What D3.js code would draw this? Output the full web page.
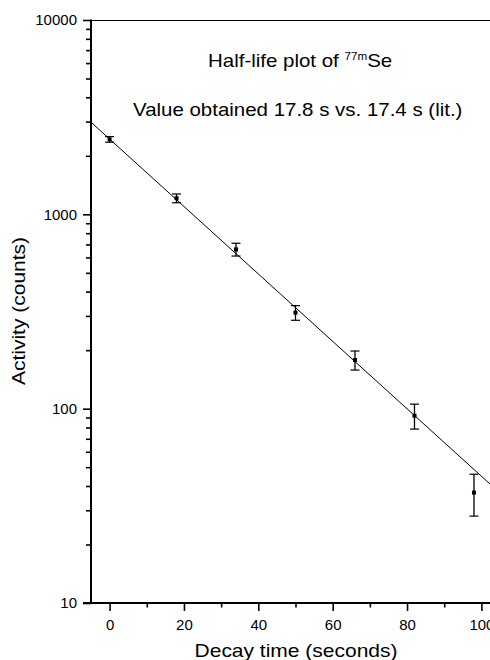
<!DOCTYPE html>
<html>
<head>
<meta charset="utf-8">
<script src="https://cdn.jsdelivr.net/npm/d3@7"></script>
<style>
  html, body { margin: 0; padding: 0; background: #fff; }
  svg { display: block; font-family: "Liberation Sans", Arial, sans-serif; }
</style>
</head>
<body>
<svg id="chart" width="490" height="660"></svg>
<script>
// ---- data ----
const decayTimes = [0, 18, 34, 50, 66, 82, 98];
const activityCounts = [2430, 1210, 660, 312, 178, 92, 37];
const activityErrors = [80, 63, 50, 27, 20, 13.5, 9];
const fitA0 = [2440];          // fitted activity at t = 0
const fitHalfLife = [17.35];   // seconds (slope of the drawn fit line)
const fitTimes = [-5, 105];
const xTickValues = [0, 20, 40, 60, 80, 100];
const xMinorTickValues = [10, 30, 50, 70, 90];
const yTickValues = [10, 100, 1000, 10000];
const titleText = ["Half-life plot of ", "77m", "Se"];
const noteText = "Value obtained 17.8 s vs. 17.4 s (lit.)";
const xTitle = "Decay time (seconds)";
const yTitle = "Activity (counts)";

// ---- layout ----
const svg = d3.select("#chart");
const pLeft = 91, pRight = 500, pTop = 20, pBottom = 603;

const x = d3.scaleLinear().domain([-5, 105]).range([pLeft, pRight]);
const y = d3.scaleLog().domain([10, 10000]).range([pBottom, pTop]);

// minor y ticks 2..9 per decade
const yMinor = [];
for (let d = 10; d < 10000; d *= 10) for (let k = 2; k <= 9; k++) yMinor.push(d * k);

// clip for plot
svg.append("defs").append("clipPath").attr("id", "plotclip")
  .append("rect").attr("x", pLeft).attr("y", pTop).attr("width", pRight - pLeft).attr("height", pBottom - pTop);

// top frame line
svg.append("line").attr("x1", pLeft).attr("x2", pRight).attr("y1", pTop + 0.5).attr("y2", pTop + 0.5)
  .attr("stroke", "#000").attr("stroke-width", 1.2);

// y axis
const yAxis = d3.axisLeft(y).tickValues(yTickValues).tickFormat(d3.format("d")).tickSize(8).tickPadding(6);
const gy = svg.append("g").attr("transform", `translate(${pLeft},0)`).call(yAxis);
gy.select(".domain").remove();
gy.selectAll(".tick line").attr("stroke-width", 1.6);
gy.selectAll(".tick text").attr("font-size", 15).attr("fill", "#000")
  .attr("font-family", "Liberation Sans, Arial, sans-serif");
const gyMinor = svg.append("g").attr("transform", `translate(${pLeft},0)`)
  .call(d3.axisLeft(y).tickValues(yMinor).tickFormat("").tickSize(5));
gyMinor.select(".domain").remove();
gyMinor.selectAll(".tick line").attr("stroke-width", 1.6);
svg.append("line").attr("x1", pLeft).attr("x2", pLeft).attr("y1", pTop - 0.5).attr("y2", pBottom + 1)
  .attr("stroke", "#000").attr("stroke-width", 2);

// x axis
const xAxis = d3.axisBottom(x).tickValues(xTickValues).tickFormat(d3.format("d")).tickSize(8).tickPadding(8);
const gx = svg.append("g").attr("transform", `translate(0,${pBottom})`).call(xAxis);
gx.select(".domain").remove();
gx.selectAll(".tick line").attr("stroke-width", 1.6);
gx.selectAll(".tick text").attr("font-size", 15).attr("fill", "#000")
  .attr("font-family", "Liberation Sans, Arial, sans-serif");
const gxMinor = svg.append("g").attr("transform", `translate(0,${pBottom})`)
  .call(d3.axisBottom(x).tickValues(xMinorTickValues).tickFormat("").tickSize(4.5));
gxMinor.select(".domain").remove();
gxMinor.selectAll(".tick line").attr("stroke-width", 1.6);
svg.append("line").attr("x1", pLeft - 8).attr("x2", pRight).attr("y1", pBottom).attr("y2", pBottom)
  .attr("stroke", "#000").attr("stroke-width", 2);

// fit line
const fitLine = d3.line()
  .x(d => x(d))
  .y(d => y(fitA0[0] * Math.pow(2, -d / fitHalfLife[0])));
svg.append("path").datum(fitTimes).attr("d", fitLine)
  .attr("clip-path", "url(#plotclip)")
  .attr("fill", "none").attr("stroke", "#000").attr("stroke-width", 1);

// error bars and points
const pts = decayTimes.map((t, i) => ({ t, v: activityCounts[i], e: activityErrors[i] }));
const eb = svg.append("g").attr("clip-path", "url(#plotclip)");
const g = eb.selectAll("g.pt").data(pts).enter().append("g").attr("class", "pt");
g.append("line")
  .attr("x1", d => x(d.t)).attr("x2", d => x(d.t))
  .attr("y1", d => y(d.v + d.e)).attr("y2", d => y(d.v - d.e))
  .attr("stroke", "#000").attr("stroke-width", 1.3);
g.append("line")
  .attr("x1", d => x(d.t) - 4.5).attr("x2", d => x(d.t) + 4.5)
  .attr("y1", d => y(d.v + d.e)).attr("y2", d => y(d.v + d.e))
  .attr("stroke", "#000").attr("stroke-width", 1.2);
g.append("line")
  .attr("x1", d => x(d.t) - 4.5).attr("x2", d => x(d.t) + 4.5)
  .attr("y1", d => y(d.v - d.e)).attr("y2", d => y(d.v - d.e))
  .attr("stroke", "#000").attr("stroke-width", 1.2);
g.append("rect")
  .attr("x", d => x(d.t) - 2).attr("y", d => y(d.v) - 2)
  .attr("width", 4).attr("height", 4).attr("fill", "#000");

// annotations (slightly wide lettering, as in the original)
const sx = 1.17;
const t1 = svg.append("text").attr("transform", `translate(208,66.5) scale(${sx},1)`)
  .attr("font-size", 17.5).attr("fill", "#000");
t1.append("tspan").text(titleText[0]);
t1.append("tspan").attr("font-size", 10).attr("dy", -7).text(titleText[1]);
t1.append("tspan").attr("dy", 7).text(titleText[2]);

svg.append("text").attr("transform", `translate(133,115.5) scale(${sx},1)`)
  .attr("font-size", 17.5).attr("fill", "#000").text(noteText);

// axis titles
svg.append("text").attr("transform", `translate(296,657) scale(1.2,1)`)
  .attr("text-anchor", "middle").attr("font-size", 17.5).attr("fill", "#000").text(xTitle);
svg.append("text").attr("transform", `translate(25,311) rotate(-90) scale(1.2,1)`)
  .attr("text-anchor", "middle").attr("font-size", 17.5).attr("fill", "#000").text(yTitle);
</script>
</body>
</html>
